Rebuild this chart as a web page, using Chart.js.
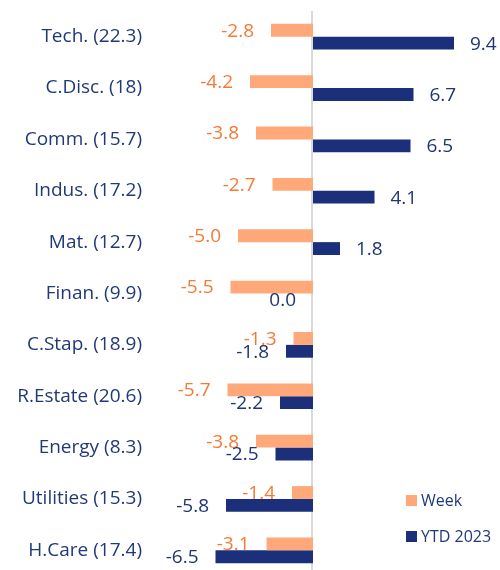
<!DOCTYPE html>
<html>
<head>
<meta charset="utf-8">
<script src="https://cdn.jsdelivr.net/npm/chart.js@4.4.0/dist/chart.umd.min.js"></script>
<style>
  html, body { margin: 0; padding: 0; background: #ffffff; overflow: hidden; }
  #wrap { width: 500px; height: 576px; }
</style>
</head>
<body>
<div id="wrap"><canvas id="c" width="500" height="576"></canvas></div>
<script>
const categories = ["Tech. (22.3)", "C.Disc. (18)", "Comm. (15.7)", "Indus. (17.2)", "Mat. (12.7)", "Finan. (9.9)", "C.Stap. (18.9)", "R.Estate (20.6)", "Energy (8.3)", "Utilities (15.3)", "H.Care (17.4)"];
const weekValues = [-2.8, -4.2, -3.8, -2.7, -5.0, -5.5, -1.3, -5.7, -3.8, -1.4, -3.1];
const ytdValues = [9.4, 6.7, 6.5, 4.1, 1.8, 0.0, -1.8, -2.2, -2.5, -5.8, -6.5];
const seriesNames = ["Week", "YTD 2023"];

const FONT = "'Open Sans', 'DejaVu Sans', sans-serif";
const NAVY_TEXT = "#203A78";
const barColors = ["#FFA87A", "#1B2F7A"];
const labelColors = ["#F47A36", "#1F3674"];

const zeroLine = {
  id: "zeroLine",
  beforeDatasetsDraw(chart) {
    const x = chart.scales.x.getPixelForValue(0);
    const ctx = chart.ctx;
    ctx.save();
    ctx.strokeStyle = "#D9D9D9";
    ctx.lineWidth = 2;
    ctx.beginPath();
    ctx.moveTo(x - 1, chart.chartArea.top);
    ctx.lineTo(x - 1, chart.chartArea.bottom);
    ctx.stroke();
    ctx.restore();
  }
};

const valueLabels = {
  id: "valueLabels",
  afterDatasetsDraw(chart) {
    const ctx = chart.ctx;
    ctx.save();
    ctx.font = "19px " + FONT;
    ctx.textBaseline = "middle";
    chart.data.datasets.forEach((ds, di) => {
      const meta = chart.getDatasetMeta(di);
      ctx.fillStyle = labelColors[di];
      meta.data.forEach((el, i) => {
        const v = ds.data[i];
        const txt = v.toFixed(1);
        if (v > 0) {
          ctx.textAlign = "left";
          ctx.fillText(txt, el.x + 16, el.y + 1);
        } else {
          ctx.textAlign = "right";
          ctx.fillText(txt, el.x - 17, el.y + 1);
        }
      });
    });
    ctx.restore();
  }
};

const customLegend = {
  id: "customLegend",
  afterDraw(chart) {
    const ctx = chart.ctx;
    ctx.save();
    ctx.font = "16px " + FONT;
    ctx.textBaseline = "middle";
    ctx.textAlign = "left";
    const x0 = 406;
    const ys = [500.5, 536.5];
    chart.data.datasets.forEach((ds, di) => {
      ctx.fillStyle = ds.backgroundColor;
      ctx.fillRect(x0, ys[di] - 5.5, 11, 11);
      ctx.fillStyle = NAVY_TEXT;
      ctx.fillText(ds.label, x0 + 15, ys[di] + 0.5);
    });
    ctx.restore();
  }
};

new Chart(document.getElementById("c"), {
  type: "bar",
  data: {
    labels: categories,
    datasets: [
      { label: seriesNames[0], data: weekValues, backgroundColor: barColors[0], categoryPercentage: 0.5, barPercentage: 1.0 },
      { label: seriesNames[1], data: ytdValues, backgroundColor: barColors[1], categoryPercentage: 0.5, barPercentage: 1.0 }
    ]
  },
  options: {
    indexAxis: "y",
    responsive: false,
    animation: false,
    devicePixelRatio: 1,
    layout: { padding: { top: 11, right: 7, bottom: 0, left: 0 } },
    plugins: { legend: { display: false }, tooltip: { enabled: false } },
    scales: {
      x: { display: false, min: -10, max: 12 },
      y: {
        position: "left",
        grid: { display: false, drawTicks: false },
        border: { display: false },
        ticks: { color: NAVY_TEXT, font: { family: FONT, size: 19 }, padding: 21 },
        afterFit(scale) { scale.width = 163; scale.paddingTop = 0; scale.paddingBottom = 0; }
      }
    }
  },
  plugins: [zeroLine, valueLabels, customLegend]
});
</script>
</body>
</html>
